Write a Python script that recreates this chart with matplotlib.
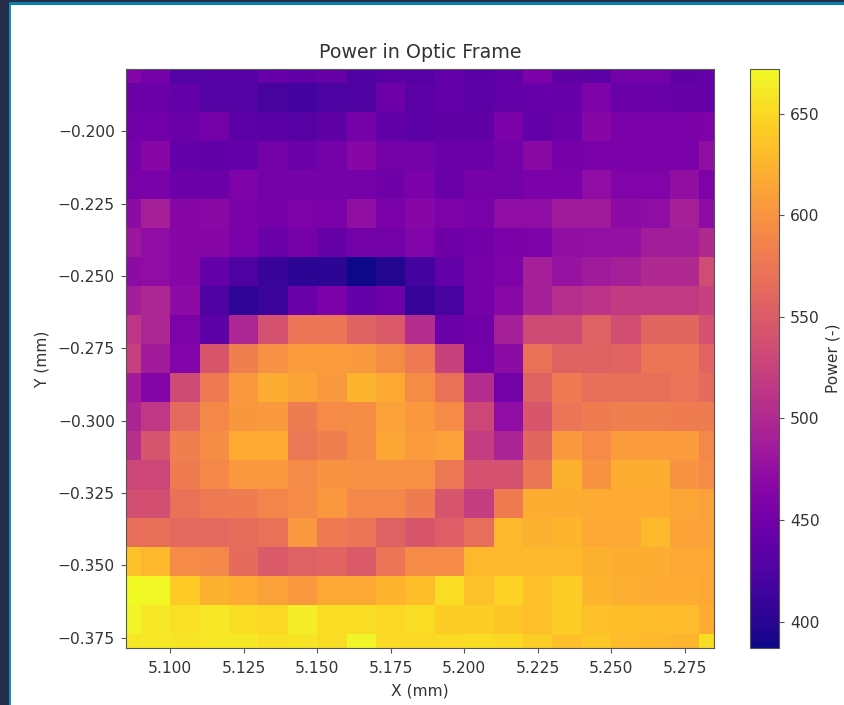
import numpy as np
import matplotlib
matplotlib.use('Agg')
import matplotlib.pyplot as plt
from matplotlib.patches import Rectangle

# scan positions in mm
x_mm = [5.085, 5.095, 5.105, 5.115, 5.125, 5.135, 5.145, 5.155, 5.165, 5.175, 5.185,
        5.195, 5.205, 5.215, 5.225, 5.235, 5.245, 5.255, 5.265, 5.275, 5.285]
y_mm = [-0.1785, -0.1885, -0.1985, -0.2085, -0.2185, -0.2285, -0.2385, -0.2485, -0.2585, -0.2685, -0.2785,
        -0.2885, -0.2985, -0.3085, -0.3185, -0.3285, -0.3385, -0.3485, -0.3585, -0.3685, -0.3785]

# one list per row, top of the picture first
row00 = [462, 452, 428, 430, 430, 442, 438, 441, 427, 432, 430, 440, 432, 438, 455, 436, 433, 450, 450, 436, 440]
row01 = [446, 446, 440, 428, 428, 420, 417, 422, 424, 447, 433, 440, 434, 440, 442, 442, 458, 443, 443, 441, 441]
row02 = [449, 449, 443, 451, 434, 432, 430, 436, 452, 438, 434, 437, 436, 456, 440, 446, 464, 457, 456, 456, 458]
row03 = [452, 466, 440, 438, 439, 451, 445, 451, 465, 451, 450, 446, 446, 452, 468, 453, 457, 457, 457, 457, 473]
row04 = [454, 454, 445, 445, 458, 450, 452, 452, 452, 448, 457, 443, 453, 450, 456, 456, 472, 460, 460, 473, 458]
row05 = [470, 490, 466, 468, 457, 453, 458, 457, 473, 455, 466, 458, 454, 472, 472, 485, 486, 470, 472, 490, 471]
row06 = [482, 472, 464, 464, 456, 443, 453, 441, 450, 450, 460, 448, 449, 456, 458, 473, 474, 476, 488, 488, 500]
row07 = [470, 472, 465, 440, 424, 410, 402, 402, 387, 396, 418, 440, 453, 458, 490, 478, 485, 490, 500, 500, 535]
row08 = [488, 498, 470, 424, 404, 412, 443, 455, 440, 447, 409, 419, 453, 467, 490, 507, 510, 518, 518, 518, 523]
row09 = [512, 497, 458, 433, 497, 540, 573, 573, 557, 548, 503, 443, 449, 490, 533, 533, 555, 537, 560, 560, 540]
row10 = [522, 487, 460, 545, 582, 598, 607, 607, 605, 594, 578, 525, 451, 470, 570, 556, 556, 558, 575, 575, 558]
row11 = [487, 462, 533, 578, 603, 620, 612, 605, 625, 617, 594, 570, 503, 450, 556, 578, 568, 568, 568, 572, 565]
row12 = [495, 515, 562, 590, 602, 605, 580, 592, 595, 610, 604, 592, 530, 472, 545, 574, 580, 582, 582, 580, 580]
row13 = [507, 542, 582, 595, 618, 618, 576, 582, 595, 615, 606, 610, 520, 495, 560, 605, 592, 607, 607, 607, 590]
row14 = [530, 530, 580, 590, 604, 604, 592, 600, 598, 598, 598, 576, 540, 540, 575, 624, 600, 620, 620, 600, 592]
row15 = [538, 538, 570, 578, 580, 588, 592, 604, 590, 590, 580, 543, 520, 580, 620, 620, 618, 618, 618, 613, 610]
row16 = [568, 568, 562, 562, 566, 570, 604, 578, 574, 555, 545, 552, 567, 628, 622, 626, 616, 616, 628, 612, 610]
row17 = [635, 628, 592, 590, 565, 548, 555, 558, 548, 574, 592, 592, 628, 628, 628, 628, 624, 620, 620, 616, 616]
row18 = [671, 670, 640, 622, 618, 610, 604, 616, 616, 625, 632, 652, 634, 646, 634, 644, 626, 621, 618, 618, 616]
row19 = [668, 660, 656, 660, 652, 650, 664, 652, 652, 650, 652, 643, 643, 638, 634, 644, 634, 632, 630, 630, 618]
row20 = [660, 660, 658, 660, 661, 656, 658, 652, 668, 651, 650, 651, 652, 650, 644, 634, 638, 630, 628, 626, 652]

power = np.array([row00, row01, row02, row03, row04, row05, row06, row07, row08, row09, row10,
                  row11, row12, row13, row14, row15, row16, row17, row18, row19, row20])

text_color = '#333333'
line_color = '#555555'

W, H = 845, 705
fig = plt.figure(figsize=(W / 100, H / 100), dpi=100)


def px_rect(x0, y0, x1, y1, color):
    # rectangle in screenshot pixels, y going down
    fig.patches.append(Rectangle((x0 / W, 1 - y1 / H), (x1 - x0) / W, (y1 - y0) / H,
                                 transform=fig.transFigure, color=color, lw=0))


# notebook window edge
px_rect(0, 0, 9, H, '#252c4a')
px_rect(0, 0, W, 2, '#252c4a')
px_rect(9, 2, 11, H, '#1190c0')
px_rect(9, 2, W, 5, '#0a7fa8')

ax = fig.add_axes([126 / W, 1 - 648 / H, 588 / W, 579 / H])
mesh = ax.pcolormesh(x_mm, y_mm, power, cmap='plasma', shading='nearest', vmin=387, vmax=672)
ax.set_xlim(5.085, 5.285)
ax.set_ylim(-0.3785, -0.1785)
ax.set_xticks([5.1, 5.125, 5.15, 5.175, 5.2, 5.225, 5.25, 5.275])
ax.set_yticks([-0.2, -0.225, -0.25, -0.275, -0.3, -0.325, -0.35, -0.375])
ax.xaxis.set_major_formatter(matplotlib.ticker.FormatStrFormatter('%.3f'))
ax.yaxis.set_major_formatter(matplotlib.ticker.FuncFormatter(lambda v, p: ('%.3f' % v).replace('-', '\u2212')))
ax.tick_params(labelsize=11.2, colors=text_color, color=line_color, pad=4.5)
ax.tick_params(axis='x', pad=6)
for s in ax.spines.values():
    s.set_edgecolor(line_color)
ax.set_xlabel('X (mm)', fontsize=11.2, color=text_color, labelpad=5)
ax.set_ylabel('Y (mm)', fontsize=11.2, color=text_color, labelpad=6)
ax.set_title('Power in Optic Frame', fontsize=13.7, pad=8, color=text_color)

cax = fig.add_axes([750 / W, 1 - 648 / H, 29 / W, 579 / H])
cbar = fig.colorbar(mesh, cax=cax)
cbar.set_ticks([400, 450, 500, 550, 600, 650])
cbar.ax.tick_params(labelsize=11.2, colors=text_color, color=line_color, pad=4.5)
cbar.outline.set_edgecolor(line_color)
cbar.set_label('Power (-)', fontsize=11.2, color=text_color)

fig.savefig('out.png', dpi=100)
